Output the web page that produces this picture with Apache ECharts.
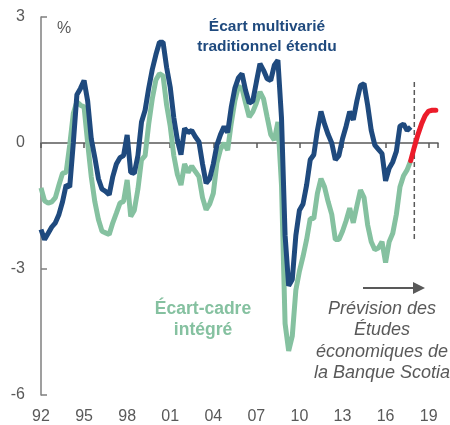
<!DOCTYPE html>
<html>
<head>
<meta charset="utf-8">
<script src="https://cdn.jsdelivr.net/npm/echarts@6/dist/echarts.min.js"></script>
<style>
  html, body { margin: 0; padding: 0; background: #fff; }
  #chart { width: 450px; height: 425px; }
</style>
</head>
<body>
<div id="chart"></div>
<script>
// quarterly values, first quarter = 1992Q1
const startYear = 1992
const multivarGap = [
  -2.06, -2.3, -2.15, -2.0,     // 1992
  -1.9, -1.7, -1.4, -1.0,       // 1993
  -1.05, 0.0, 1.15, 1.3,        // 1994
  1.49, 1.0, 0.1, -0.35,        // 1995
  -0.85, -1.1, -1.15, -1.23,    // 1996
  -0.8, -0.5, -0.35, -0.3,      // 1997
  0.19, -0.7, -0.72, -0.3,      // 1998
  0.5, 0.78, 1.3, 1.75,         // 1999
  2.1, 2.4, 2.4, 1.8,           // 2000
  1.33, 0.6, 0.07, -0.28,       // 2001
  0.35, 0.25, 0.3, 0.15,        // 2002
  0.03, -0.5, -0.96, -0.85,     // 2003
  -0.5, -0.05, 0.2, 0.39,       // 2004
  0.25, 0.85, 1.3, 1.55,        // 2005
  1.65, 1.25, 0.95, 1.0,        // 2006
  1.45, 1.89, 1.73, 1.53,       // 2007
  1.49, 1.85, 1.97, 0.6,        // 2008
  -2.2, -3.4, -3.25, -2.2,      // 2009
  -1.6, -1.45, -1.0, -0.4,      // 2010
  -0.28, 0.3, 0.75, 0.45,       // 2011
  0.2, 0.0, -0.4, -0.3,         // 2012
  0.1, 0.4, 0.75, 0.55,         // 2013
  1.0, 1.37, 1.41, 0.9,         // 2014
  0.3, -0.05, -0.15, -0.25,     // 2015
  -0.9, -0.6, -0.45, -0.2,      // 2016
  0.4, 0.45, 0.3, 0.38          // 2017
]
const integratedGap = [
  -1.07, -1.38, -1.43, -1.4,    // 1992
  -1.3, -1.0, -0.72, -0.7,      // 1993
  -0.05, 0.7, 0.98, 0.9,        // 1994
  0.86, 0.0, -0.8, -1.4,        // 1995
  -1.82, -2.1, -2.14, -2.18,    // 1996
  -1.9, -1.67, -1.43, -1.39,    // 1997
  -0.88, -1.75, -1.6, -1.1,     // 1998
  -0.4, -0.3, 0.45, 1.05,       // 1999
  1.5, 1.65, 1.6, 0.9,          // 2000
  0.4, -0.3, -0.75, -1.0,       // 2001
  -0.5, -0.7, -0.55, -0.68,     // 2002
  -0.8, -1.3, -1.59, -1.45,     // 2003
  -1.2, -0.48, -0.15, 0.0,      // 2004
  -0.17, 0.47, 1.0, 1.35,       // 2005
  1.3, 0.95, 0.62, 0.74,        // 2006
  0.95, 1.22, 1.05, 0.62,       // 2007
  0.2, 0.07, 0.5, -1.0,         // 2008
  -4.3, -4.95, -4.6, -3.5,      // 2009
  -3.05, -2.7, -2.3, -1.8,      // 2010
  -1.8, -1.2, -0.85, -1.05,     // 2011
  -1.4, -1.7, -2.3, -2.3,       // 2012
  -2.1, -1.85, -1.55, -1.9,     // 2013
  -1.5, -1.12, -1.3, -1.95,     // 2014
  -2.35, -2.54, -2.5, -2.35,    // 2015
  -2.85, -2.35, -2.15, -1.7,    // 2016
  -1.05, -0.78, -0.64, -0.42    // 2017
]
// forecast, first quarter = 2017Q4
const forecastStart = 2017.75
const forecast = [-0.42, -0.1, 0.2, 0.45, 0.65, 0.76, 0.78, 0.78]
const forecastLine = 2018
const forecastLineRange = [1.45, -2.35]
const yTicks = [-6, -3, 0, 3]

const toPairs = (first, vals) => vals.map((v, i) => [first + i / 4, v])

const fontFam = "'Liberation Sans', Arial, sans-serif"
const chart = echarts.init(document.getElementById('chart'))

const xBase = {
  type: 'value',
  min: 1992,
  max: 2019.65,
  interval: 3,
  splitLine: { show: false }
}

chart.setOption({
  animation: false,
  grid: { left: 41, right: 12, top: 17, bottom: 28 },
  xAxis: [
    Object.assign({}, xBase, {
      position: 'bottom',
      axisLine: { show: false, onZero: false },
      axisTick: { show: false },
      axisLabel: {
        color: '#595959', fontSize: 16, fontFamily: fontFam, margin: 14,
        formatter: (v) => String(v).slice(2)
      }
    }),
    Object.assign({}, xBase, {
      position: 'bottom',
      axisLine: { show: true, onZero: true, lineStyle: { color: '#595959', width: 1.5 } },
      axisTick: { show: true, length: 5, lineStyle: { color: '#595959', width: 1.5 } },
      axisLabel: { show: false }
    })
  ],
  yAxis: {
    type: 'value',
    min: yTicks[0],
    max: yTicks[yTicks.length - 1],
    interval: 3,
    splitLine: { show: false },
    axisLine: { show: true, lineStyle: { color: '#7f7f7f', width: 1.5 } },
    axisTick: { show: true, inside: true, length: 6, lineStyle: { color: '#7f7f7f', width: 1.5 } },
    axisLabel: { color: '#595959', fontSize: 16, fontFamily: fontFam, margin: 16 }
  },
  series: [
    {
      type: 'line',
      data: [[forecastLine, forecastLineRange[0]], [forecastLine, forecastLineRange[1]]],
      showSymbol: false,
      lineStyle: { color: '#595959', width: 1.5, type: [5, 3] },
      z: 1
    },
    {
      type: 'line',
      data: toPairs(startYear, integratedGap),
      showSymbol: false,
      lineStyle: { color: '#85c1a0', width: 5 },
      z: 2
    },
    {
      type: 'line',
      data: toPairs(startYear, multivarGap),
      showSymbol: false,
      lineStyle: { color: '#1f4a7e', width: 5 },
      z: 3
    },
    {
      type: 'line',
      data: toPairs(forecastStart, forecast),
      showSymbol: false,
      lineStyle: { color: '#ec1c2a', width: 5, cap: 'round' },
      z: 4
    }
  ],
  graphic: [
    { type: 'text', left: 57, top: 21, style: { text: '%', fill: '#595959', font: '16px ' + fontFam } },
    {
      type: 'text', x: 267, y: 17,
      style: {
        text: 'Écart multivarié\ntraditionnel étendu', align: 'center', lineHeight: 20,
        fill: '#1f4a7e', font: 'bold 15.5px ' + fontFam
      }
    },
    {
      type: 'text', x: 203, y: 299,
      style: {
        text: 'Écart-cadre\nintégré', align: 'center', lineHeight: 21,
        fill: '#85c1a0', font: 'bold 17.5px ' + fontFam
      }
    },
    { type: 'line', shape: { x1: 363, y1: 288, x2: 416, y2: 288 }, style: { stroke: '#595959', lineWidth: 2 } },
    { type: 'polygon', shape: { points: [[425, 288], [413, 282], [413, 294]] }, style: { fill: '#595959' } },
    {
      type: 'text', x: 382, y: 298,
      style: {
        text: 'Prévision des\nÉtudes\néconomiques de\nla Banque Scotia', align: 'center', lineHeight: 21.5,
        fill: '#595959', font: 'italic 18px ' + fontFam
      }
    }
  ]
})
</script>
</body>
</html>
